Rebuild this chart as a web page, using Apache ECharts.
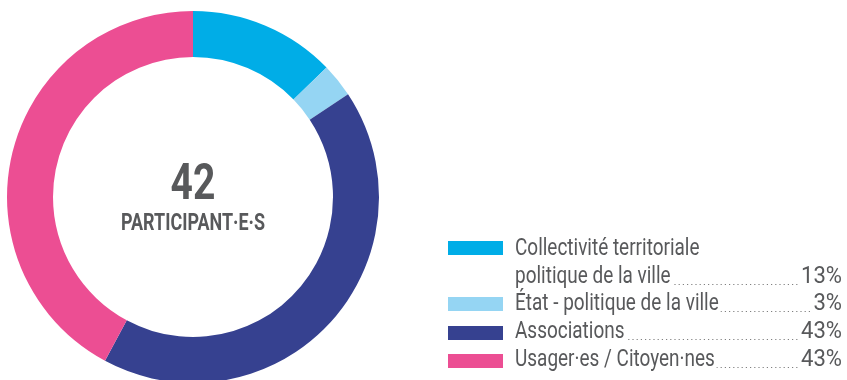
<!DOCTYPE html>
<html>
<head>
<meta charset="utf-8">
<script src="https://cdn.jsdelivr.net/npm/echarts@6/dist/echarts.min.js"></script>
<style>
html,body{margin:0;padding:0;background:#fff;}
#c{width:847px;height:380px;}
</style>
</head>
<body>
<div id="c"></div>
<script>
const categories = ['Collectivité territoriale\npolitique de la ville', 'État - politique de la ville', 'Associations', 'Usager·es / Citoyen·nes'];
const values = [13, 3, 43, 43];
const pctLabels = ['13%', '3%', '43%', '43%'];
const colors = ['#00ADE7', '#95D5F3', '#364190', '#EC4E93'];
const totalLabel = '42';
const totalCaption = 'PARTICIPANT·E·S';

const FONT = 'Roboto, "Liberation Sans Narrow", sans-serif';
const SX = 0.79;
const chart = echarts.init(document.getElementById('c'), null, {renderer: 'canvas'});

const rowCenters = [277, 304, 332, 360];   // y centre of the line carrying the percentage
const rectCenters = [248, 304, 333, 361];
const textX = 515, rightX = 842, rectX = 448, rectW = 55, rectH = 14;
const graphics = [];
function txt(x, y, s, font, align, z, bg, sx) {
  return {
    type: 'text', x: x, y: y, z: z || 2, scaleX: sx || SX, silent: true,
    style: Object.assign({text: s, font: font, fill: '#58595b', align: align, verticalAlign: 'middle'},
      bg ? {backgroundColor: '#fff', padding: align === 'right' ? [0, 0, 0, 2] : [0, 2, 0, 0]} : {})
  };
}
categories.forEach((name, i) => {
  const lines = name.split('\n');
  const lastY = rowCenters[i];
  graphics.push({
    type: 'rect', shape: {x: rectX, y: rectCenters[i] - rectH / 2, width: rectW, height: rectH},
    style: {fill: colors[i]}, silent: true
  });
  graphics.push({
    type: 'line', shape: {x1: textX + 4, y1: lastY + 7.5, x2: rightX - 4, y2: lastY + 7.5},
    style: {stroke: '#808080', lineWidth: 1.2, lineDash: [1.2, 3]}, silent: true, z: 1
  });
  graphics.push(txt(rightX, lastY, pctLabels[i], '24px ' + FONT, 'right', 2, true, 0.92));
  lines.forEach((ln, k) => {
    const y = lastY - (lines.length - 1 - k) * 28;
    graphics.push(txt(textX, y, ln, '24px ' + FONT, 'left', 2, k === lines.length - 1));
  });
});
graphics.push(txt(193, 186, totalLabel, 'bold 50px ' + FONT, 'center', 3, false, 0.78));
graphics.push(txt(193, 224, totalCaption, 'bold 23px ' + FONT, 'center', 3, false, 0.78));

chart.setOption({
  animation: false,
  backgroundColor: '#fff',
  color: colors,
  series: [{
    type: 'pie',
    center: [193, 197],
    radius: [140, 186],
    startAngle: 90,
    clockwise: true,
    label: {show: false},
    labelLine: {show: false},
    emphasis: {disabled: true},
    itemStyle: {borderWidth: 0},
    data: categories.map((c, i) => ({name: c, value: values[i]}))
  }],
  graphic: graphics
});
</script>
</body>
</html>
